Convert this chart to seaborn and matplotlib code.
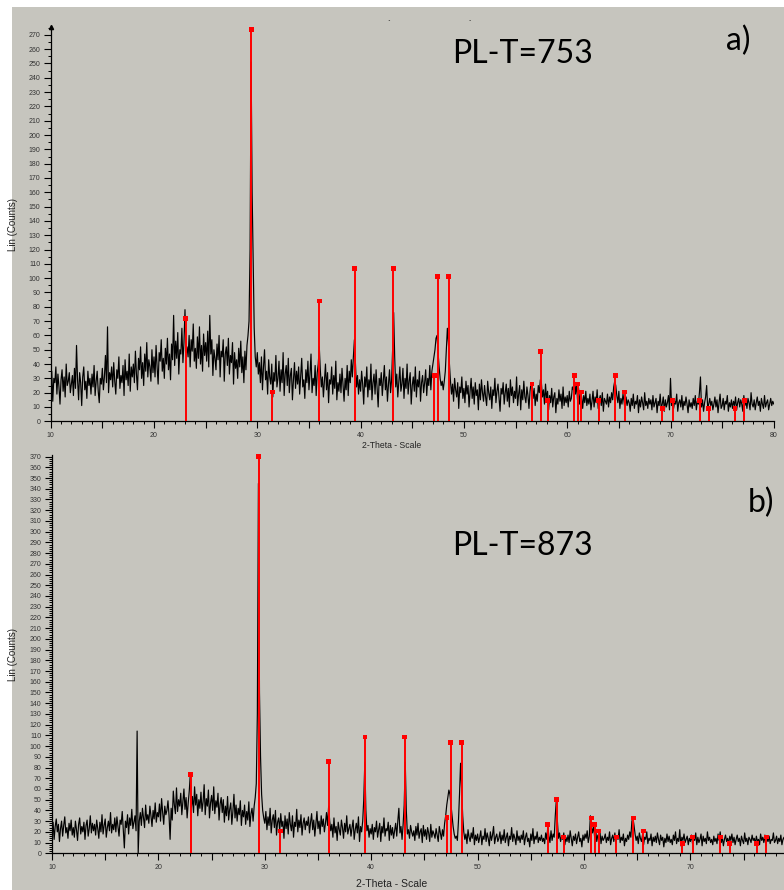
import numpy as np
import matplotlib
matplotlib.use('Agg')
import matplotlib.pyplot as plt
from matplotlib.patches import Rectangle
from matplotlib.ticker import MultipleLocator, FuncFormatter
import seaborn as sns

# 2-theta grid, 0.1 deg step from 10 to 80
two_theta = np.round(np.arange(10, 80.001, 0.1), 1)

# PL-T=753 pattern, counts (one row = 2 deg)
counts_753 = [
    22, 35, 14, 30, 27, 38, 19, 33, 24, 12, 29, 36, 21, 31, 17, 40, 25, 28, 34, 20,
    26, 32, 18, 37, 23, 53, 29, 15, 34, 27, 11, 31, 38, 22, 28, 16, 35, 25, 30, 19,
    33, 24, 39, 18, 28, 35, 21, 13, 30, 26, 37, 22, 31, 46, 27, 66, 20, 34, 29, 38,
    24, 41, 28, 19, 36, 30, 45, 23, 32, 27, 39, 18, 43, 29, 35, 25, 47, 21, 38, 31,
    40, 27, 49, 33, 22, 44, 36, 52, 30, 41, 25, 47, 35, 55, 31, 43, 38, 28, 50, 34,
    45, 31, 53, 38, 26, 48, 42, 57, 35, 44, 30, 51, 40, 58, 36, 47, 29, 54, 43, 74,
    39, 56, 44, 62, 33, 50, 47, 65, 41, 55, 78, 48, 52, 45, 60, 38, 57, 49, 68, 42,
    51, 37, 59, 44, 66, 40, 53, 35, 61, 46, 55, 42, 63, 38, 74, 47, 57, 32, 50, 44,
    36, 54, 43, 60, 31, 49, 45, 57, 28, 47, 52, 39, 58, 33, 46, 41, 55, 26, 48, 37,
    43, 30, 51, 38, 56, 34, 45, 27, 49, 36, 53, 60, 70, 120, 251, 160, 110, 65, 45, 38,
    48, 33, 41, 27, 45, 22, 38, 50, 29, 35, 19, 43, 31, 26, 40, 17, 34, 28, 46, 24,
    30, 42, 21, 36, 27, 48, 18, 33, 39, 25, 44, 20, 32, 37, 15, 29, 41, 23, 35, 26,
    38, 19, 31, 44, 24, 29, 16, 36, 27, 42, 22, 33, 47, 20, 30, 25, 39, 18, 34, 40,
    52, 36, 24, 31, 17, 28, 40, 22, 34, 13, 29, 26, 38, 19, 32, 23, 42, 15, 27, 21,
    33, 20, 37, 25, 14, 30, 22, 39, 18, 35, 27, 43, 31, 45, 57, 40, 24, 32, 19, 29,
    21, 35, 26, 12, 31, 24, 38, 17, 29, 22, 40, 15, 27, 33, 19, 36, 23, 10, 30, 25,
    34, 18, 28, 39, 22, 31, 14, 26, 36, 20, 29, 50, 76, 45, 24, 33, 17, 27, 38, 21,
    26, 37, 16, 30, 23, 40, 19, 28, 34, 12, 25, 31, 21, 38, 17, 29, 24, 35, 14, 27,
    32, 20, 27, 36, 18, 30, 25, 39, 22, 35, 40, 45, 50, 58, 60, 48, 38, 30, 25, 28,
    22, 28, 35, 50, 65, 55, 40, 28, 19, 26, 14, 30, 22, 17, 27, 9, 24, 20, 31, 16,
    23, 13, 28, 19, 25, 10, 21, 30, 16, 24, 12, 27, 18, 22, 8, 26, 15, 29, 20, 14,
    25, 17, 11, 28, 20, 15, 24, 9, 22, 18, 30, 13, 21, 26, 16, 7, 23, 19, 27, 12,
    20, 26, 14, 23, 10, 29, 18, 24, 13, 21, 16, 31, 11, 19, 25, 8, 22, 15, 28, 17,
    13, 24, 18, 9, 21, 27, 26, 16, 23, 11, 19, 14, 25, 20, 29, 27, 17, 22, 12, 26,
    15, 21, 8, 18, 13, 23, 10, 17, 20, 6, 16, 12, 22, 14, 19, 9, 24, 11, 17, 13,
    18, 10, 21, 14, 16, 24, 22, 28, 19, 26, 15, 23, 12, 20, 17, 9, 18, 13, 21, 11,
    16, 12, 19, 8, 14, 21, 10, 17, 13, 22, 9, 15, 18, 11, 20, 7, 16, 14, 12, 19,
    10, 17, 13, 20, 15, 24, 28, 25, 18, 13, 21, 9, 16, 12, 19, 14, 8, 17, 11, 15,
    13, 7, 16, 11, 19, 9, 14, 12, 18, 6, 15, 10, 17, 13, 8, 20, 11, 14, 9, 16,
    12, 15, 8, 18, 10, 13, 16, 6, 14, 11, 19, 9, 12, 17, 7, 15, 10, 13, 18, 8,
    30, 11, 16, 9, 14, 12, 19, 7, 13, 15, 10, 18, 8, 14, 11, 17, 12, 6, 15, 10,
    13, 9, 16, 11, 18, 8, 14, 12, 20, 31, 10, 15, 7, 13, 17, 25, 9, 12, 16, 11,
    14, 8, 12, 17, 10, 15, 6, 13, 19, 9, 11, 16, 8, 14, 12, 18, 7, 13, 10, 15,
    9, 14, 11, 17, 8, 13, 16, 10, 15, 12, 7, 18, 11, 14, 9, 16, 13, 8, 20, 12,
    10, 15, 8, 13, 17, 11, 14, 7, 16, 12, 9, 18, 10, 13, 15, 8, 12, 16, 11, 14,
    12,
]

# PL-T=873 pattern
counts_873 = [
    18, 29, 13, 25, 32, 20, 27, 11, 23, 30, 16, 26, 34, 19, 24, 14, 28, 21, 31, 17,
    24, 15, 30, 22, 12, 27, 33, 18, 25, 20, 29, 13, 26, 31, 16, 23, 35, 19, 28, 21,
    27, 17, 31, 23, 14, 29, 20, 36, 18, 26, 32, 15, 24, 30, 21, 38, 19, 27, 22, 33,
    20, 34, 25, 16, 31, 27, 39, 22, 5, 30, 24, 36, 18, 33, 26, 41, 23, 29, 35, 21,
    114, 0, 30, 38, 26, 42, 33, 24, 45, 31, 36, 28, 44, 35, 25, 40, 32, 47, 29, 38,
    34, 46, 30, 51, 38, 27, 44, 36, 40, 49, 35, 13, 42, 31, 58, 45, 37, 61, 39, 50,
    44, 56, 36, 48, 60, 41, 52, 33, 47, 58, 74, 43, 53, 38, 62, 45, 55, 35, 50, 42,
    57, 39, 48, 64, 36, 51, 44, 59, 33, 47, 54, 40, 62, 37, 49, 43, 56, 31, 46, 52,
    38, 50, 29, 44, 35, 53, 31, 41, 47, 27, 39, 55, 33, 45, 30, 42, 36, 49, 26, 40,
    34, 45, 27, 39, 31, 48, 25, 37, 42, 30, 44, 52, 65, 130, 345, 150, 90, 55, 40, 33,
    28, 39, 22, 34, 26, 42, 19, 31, 36, 24, 40, 17, 29, 33, 21, 37, 25, 30, 14, 35,
    23, 32, 18, 38, 27, 21, 35, 15, 29, 25, 41, 20, 31, 24, 36, 17, 28, 33, 22, 30,
    26, 34, 19, 29, 37, 22, 31, 16, 27, 39, 23, 30, 18, 35, 25, 32, 20, 28, 38, 26,
    44, 30, 21, 27, 15, 33, 19, 25, 12, 29, 22, 17, 31, 24, 14, 28, 20, 35, 18, 23,
    27, 16, 24, 31, 13, 22, 28, 19, 34, 11, 25, 20, 30, 50, 85, 40, 21, 26, 15, 23,
    18, 27, 13, 24, 20, 30, 15, 22, 28, 11, 25, 19, 33, 16, 23, 21, 29, 12, 26, 17,
    24, 14, 21, 28, 16, 30, 42, 19, 25, 13, 27, 45, 85, 40, 18, 22, 14, 26, 20, 16,
    21, 12, 25, 17, 28, 14, 20, 23, 10, 26, 16, 22, 13, 24, 19, 11, 27, 15, 21, 18,
    14, 23, 17, 11, 25, 19, 13, 22, 16, 28, 35, 45, 52, 59, 55, 45, 35, 25, 18, 14,
    16, 12, 30, 55, 84, 60, 35, 20, 13, 18, 9, 22, 15, 11, 19, 14, 24, 8, 17, 12,
    18, 10, 15, 21, 8, 16, 13, 23, 11, 19, 14, 7, 20, 12, 17, 25, 9, 15, 18, 11,
    14, 20, 9, 17, 12, 22, 10, 15, 19, 7, 16, 13, 24, 11, 18, 14, 8, 21, 12, 16,
    10, 17, 13, 21, 8, 15, 19, 11, 14, 6, 18, 12, 23, 9, 16, 13, 20, 10, 15, 12,
    17, 11, 14, 9, 19, 13, 25, 16, 10, 21, 12, 18, 15, 35, 50, 30, 14, 19, 11, 16,
    13, 19, 8, 15, 11, 17, 10, 21, 14, 7, 16, 12, 18, 9, 15, 20, 11, 14, 6, 17,
    12, 18, 14, 21, 10, 16, 35, 24, 19, 26, 15, 22, 11, 17, 13, 20, 9, 16, 12, 14,
    18, 10, 15, 12, 20, 8, 14, 17, 11, 19, 9, 16, 13, 22, 10, 15, 12, 18, 7, 14,
    11, 17, 13, 20, 15, 30, 33, 26, 18, 12, 16, 9, 19, 14, 11, 17, 8, 15, 13, 20,
    9, 14, 12, 18, 7, 15, 11, 16, 10, 19, 13, 8, 17, 12, 15, 6, 14, 10, 18, 11,
    16, 10, 13, 8, 17, 12, 20, 9, 14, 11, 22, 7, 15, 12, 18, 10, 13, 16, 8, 14,
    11, 17, 9, 14, 12, 19, 8, 15, 10, 13, 18, 7, 16, 11, 14, 9, 20, 12, 15, 10,
    13, 8, 16, 11, 14, 9, 18, 12, 20, 10, 15, 7, 13, 17, 11, 14, 9, 16, 12, 18,
    10, 15, 8, 13, 17, 11, 14, 7, 16, 12, 9, 19, 11, 14, 8, 15, 13, 10, 17, 12,
    14, 9, 16, 11, 13, 8, 18, 12, 15, 10, 17, 7, 14, 11, 16, 9, 13, 12, 19, 10,
    12, 16, 9, 14, 11, 17, 8, 13, 15, 10, 18, 11, 14, 7, 16, 12, 9, 15, 13, 11,
    13,
]

# reference phase sticks (red)
stick_pos = [23.05, 29.43, 31.45, 36.0, 39.42, 43.15, 47.12, 47.47, 48.52,
             56.6, 57.45, 58.1, 60.68, 61.0, 61.38, 63.05, 64.65, 65.58,
             69.22, 70.2, 72.82, 73.68, 76.25, 77.15]
stick_753 = [72, 274, 20.5, 84, 107, 107, 32, 101, 101,
             26, 49, 14.7, 32, 26, 20.5, 14.7, 32, 20.5,
             8.8, 14.7, 14.7, 8.8, 8.8, 14.7]
stick_873 = [73.7, 370, 20.8, 85.5, 108.5, 108.5, 33.2, 103, 103,
             27, 50.3, 15.2, 33, 27, 20.8, 15.2, 33, 20.8,
             9.3, 15.2, 15.2, 9.3, 9.3, 15.2]

BG = '#c6c5be'
W, H = 784, 890

sns.set_style('ticks')
plt.rcParams['font.family'] = ['Liberation Sans', 'DejaVu Sans']

fig = plt.figure(figsize=(W / 100, H / 100), dpi=100)
fig.patch.set_facecolor('white')
fig.add_artist(Rectangle((12 / W, 0), 1, 1 - 7 / H, transform=fig.transFigure,
                         facecolor=BG, edgecolor='none', zorder=-10))

ax_a = fig.add_axes([50.7 / W, 1 - 421.3 / H, 723.1 / W, 394.3 / H])
ax_b = fig.add_axes([52 / W, 1 - 853.3 / H, 744.8 / W, 398.3 / H])


def draw(ax, counts, sticks, ytop, ystep_minor, lab_x, lab_y, xl_size, last_lab):
    ax.set_facecolor('none')
    sns.lineplot(x=two_theta, y=counts, ax=ax, color='black', lw=0.85,
                 estimator=None, zorder=2)
    ax.vlines(stick_pos, 0, sticks, color='#ff0000', lw=1.4, zorder=3)
    sns.scatterplot(x=stick_pos, y=sticks, ax=ax, marker='s', s=12,
                    color='#ff0000', edgecolor='none', zorder=4, clip_on=False)
    ax.set_xlim(10, 80)
    ax.set_ylim(0, ytop)
    sns.despine(ax=ax)
    for s in ['left', 'bottom']:
        ax.spines[s].set_linewidth(0.9)
        ax.spines[s].set_color('black')
    ax.xaxis.set_major_locator(MultipleLocator(5))
    ax.xaxis.set_minor_locator(MultipleLocator(1))
    ax.xaxis.set_major_formatter(FuncFormatter(
        lambda v, p: f'{v:.0f}' if round(v) % 10 == 0 and round(v) <= last_lab else ''))
    ax.yaxis.set_major_locator(MultipleLocator(10))
    ax.yaxis.set_minor_locator(MultipleLocator(ystep_minor))
    ax.tick_params(which='major', length=5, width=0.8, color='black',
                   labelsize=5, labelcolor='#333333', pad=2.5)
    ax.tick_params(which='minor', length=2.5, width=0.7, color='black')
    ax.set_ylabel('Lin (Counts)', fontsize=7, color='#222222')
    ax.yaxis.set_label_coords(lab_y, 0.5)
    ax.set_xlabel('2-Theta - Scale', fontsize=xl_size, color='#222222')
    ax.xaxis.set_label_coords(lab_x[0], lab_x[1])


draw(ax_a, counts_753, stick_753, 275.5, 5, (0.472, -0.05), -0.045, 6.2, 80)
draw(ax_b, counts_873, stick_873, 371.5, 2, (0.4565, -0.064), -0.046, 7.5, 70)

# small arrow head at top of the y axis in panel a
ax_a.plot([10], [275.5], marker='^', ms=3, color='black', clip_on=False)

big = dict(family=['Lato', 'DejaVu Sans'], fontsize=23, color='black',
           ha='left', va='baseline')
fig.text(452 / W, 1 - 63 / H, 'PL-T=753', **big)
fig.text(726 / W, 1 - 50 / H, 'a)', **big)
fig.text(452 / W, 1 - 555 / H, 'PL-T=873', **big)
fig.text(748 / W, 1 - 512 / H, 'b)', **big)
fig.text(388 / W, 1 - 25 / H, '`', fontsize=6, color='black')
fig.text(469 / W, 1 - 25 / H, '´', fontsize=6, color='black')

fig.savefig('out.png', dpi=100, facecolor=fig.get_facecolor())
